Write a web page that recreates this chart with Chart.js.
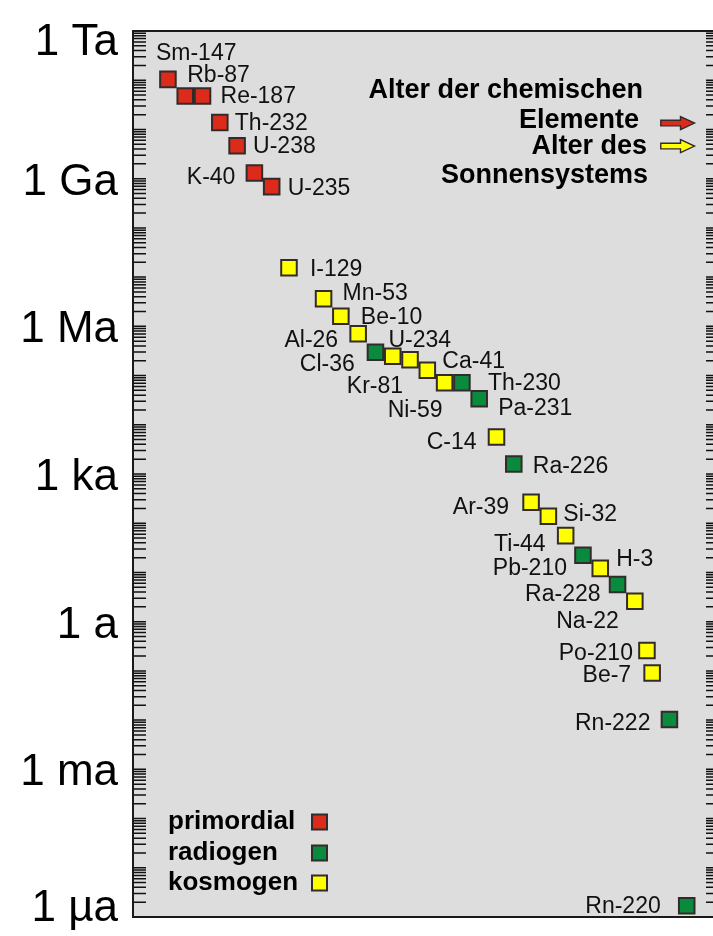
<!DOCTYPE html>
<html lang="de">
<head>
<meta charset="UTF-8">
<title>Halbwertszeiten</title>
<script src="https://cdn.jsdelivr.net/npm/chart.js@4.4.0/dist/chart.umd.min.js"></script>
<style>
  html, body { margin: 0; padding: 0; background: #fff; overflow: hidden; }
  canvas { display: block; }
</style>
</head>
<body>
<canvas id="chart" width="713" height="936" style="width:713px;height:936px"></canvas>
<script>
// nuclides, ordered left to right (slot = position along the diagonal)
const nuclides = ['Sm-147', 'Rb-87', 'Re-187', 'Th-232', 'U-238', 'K-40', 'U-235',
  'I-129', 'Mn-53', 'Be-10', 'Al-26', 'U-234', 'Cl-36', 'Kr-81', 'Ca-41', 'Ni-59',
  'Th-230', 'Pa-231', 'C-14', 'Ra-226', 'Ar-39', 'Si-32', 'Ti-44', 'Pb-210', 'H-3',
  'Ra-228', 'Na-22', 'Po-210', 'Be-7', 'Rn-222', 'Rn-220'];
const slots = [0, 1, 2, 3, 4, 5, 6, 7, 9, 10, 11, 12, 13, 14, 15, 16, 17, 18, 19, 20,
  21, 22, 23, 24, 25, 26, 27, 27.7, 28, 29, 30];
// half-life in years
const halfLives = [1.04e11, 4.8e10, 4.8e10, 1.38e10, 4.65e9, 1.3e9, 6.9e8,
  1.55e7, 3.64e6, 1.6e6, 7.05e5, 2.97e5, 2.46e5, 2.09e5, 1.28e5, 7.16e4,
  7.16e4, 3.39e4, 5640, 1600, 267, 138, 56, 22.3, 12.1,
  5.7, 2.59, 0.259, 0.0905, 0.0103, 1.69e-6];
// p = primordial, r = radiogen, k = kosmogen
const kinds = ['p', 'p', 'p', 'p', 'p', 'p', 'p',
  'k', 'k', 'k', 'k', 'r', 'k', 'k', 'k', 'k',
  'r', 'r', 'k', 'r', 'k', 'k', 'k', 'r', 'k',
  'r', 'k', 'k', 'k', 'r', 'r'];

const axisValues = [1e12, 1e9, 1e6, 1e3, 1, 1e-3, 1e-6];
const axisLabels = ['1 Ta', '1 Ga', '1 Ma', '1 ka', '1 a', '1 ma', '1 µa'];
const legendNames = ['primordial', 'radiogen', 'kosmogen'];
const legendKinds = ['p', 'r', 'k'];
// Alter der chemischen Elemente, Alter des Sonnensystems (years)
const arrowValues = [1.35e10, 4.6e9];
const arrowKinds = ['p', 'k'];

const colors = { p: '#dc2b1b', r: '#0a8a3c', k: '#ffff00' };
const edge = '#332b2b';

// label placement next to each marker: [dx, dy, side]
const labelPos = [
  [-12, -27, 'l'], [2, -21, 'l'], [18, 0, 'l'], [15, 0, 'l'], [16, 0, 'l'], [-19, 4, 'r'], [16, 1, 'l'],
  [21, 1, 'l'], [19, -6, 'l'], [20, 0, 'l'], [-20, 6, 'r'], [13, -13, 'l'], [-38, 7, 'r'], [-7, 26, 'r'],
  [15, -10, 'l'], [-2, 27, 'r'], [26, 0, 'l'], [19, 9, 'l'], [-20, 5, 'r'], [19, 2, 'l'],
  [-22, 4, 'r'], [15, -3, 'l'], [-20, 8, 'r'], [-16, 12, 'r'], [16, -10, 'l'], [-17, 9, 'r'],
  [-16, 19, 'r'], [-14, 2, 'r'], [-21, 2, 'r'], [-19, 3, 'r'], [-26, 0, 'r']
];

const FONT = '"Liberation Sans", Arial, sans-serif';

const points = slots.map((s, i) => ({ x: s, y: halfLives[i] }));

const frame = {
  id: 'frame',
  beforeDatasetsDraw(chart) {
    const { ctx, chartArea: a, scales: { y } } = chart;
    // the frame's right edge sits just past the visible canvas
    const right = a.right + 6;
    ctx.save();
    ctx.fillStyle = '#dddddd';
    ctx.fillRect(a.left, a.top, right - a.left, a.bottom - a.top);

    // log ticks, drawn inwards on both sides
    ctx.strokeStyle = '#111';
    ctx.lineWidth = 1.5;
    ctx.beginPath();
    for (let d = -6; d <= 12; d++) {
      for (let m = 1; m <= 9; m++) {
        if (d === 12 && m > 1) break;
        const py = y.getPixelForValue(m * Math.pow(10, d));
        ctx.moveTo(a.left, py); ctx.lineTo(a.left + 13, py);
        ctx.moveTo(right, py); ctx.lineTo(right - 13, py);
      }
    }
    ctx.stroke();

    ctx.lineWidth = 2;
    ctx.strokeStyle = '#1a1a1a';
    ctx.strokeRect(a.left, a.top, right - a.left, a.bottom - a.top);

    // axis labels
    ctx.fillStyle = '#000';
    ctx.font = '44px ' + FONT;
    ctx.textAlign = 'right';
    ctx.textBaseline = 'alphabetic';
    axisValues.forEach((v, i) => {
      let py = y.getPixelForValue(v) + 16;
      py = Math.max(55, Math.min(921, py));
      ctx.fillText(axisLabels[i], 118, py);
    });
    ctx.restore();
  },
  afterDatasetsDraw(chart) {
    const { ctx, scales: { x, y } } = chart;
    const meta = chart.getDatasetMeta(0);
    ctx.save();
    // nuclide labels
    ctx.fillStyle = '#111';
    ctx.font = '23px ' + FONT;
    ctx.textBaseline = 'middle';
    meta.data.forEach((pt, i) => {
      const [dx, dy, side] = labelPos[i];
      ctx.textAlign = side === 'l' ? 'left' : 'right';
      ctx.fillText(nuclides[i], pt.x + dx, pt.y + dy + 1);
    });

    // title text
    ctx.font = 'bold 27px ' + FONT;
    ctx.textAlign = 'right';
    ctx.fillStyle = '#000';
    ctx.fillText('Alter der chemischen', 643, 91);
    ctx.fillText('Elemente', 639, 121);
    ctx.fillText('Alter des', 647, 147);
    ctx.fillText('Sonnensystems', 648, 176);

    // arrows at the two ages
    const x0 = x.getPixelForValue(28.5), x1 = x.getPixelForValue(30.45);
    arrowValues.forEach((v, i) => {
      const py = y.getPixelForValue(v);
      const xh = x1 - 14;
      ctx.beginPath();
      ctx.moveTo(x0, py - 2.8);
      ctx.lineTo(xh, py - 2.8);
      ctx.lineTo(xh, py - 6.5);
      ctx.lineTo(x1, py);
      ctx.lineTo(xh, py + 6.5);
      ctx.lineTo(xh, py + 2.8);
      ctx.lineTo(x0, py + 2.8);
      ctx.closePath();
      ctx.fillStyle = colors[arrowKinds[i]];
      ctx.fill();
      ctx.lineWidth = 1.4;
      ctx.strokeStyle = edge;
      ctx.stroke();
    });

    // legend
    ctx.font = 'bold 26px ' + FONT;
    ctx.textAlign = 'left';
    ctx.textBaseline = 'middle';
    const ly = [822, 853, 883];
    legendNames.forEach((n, i) => {
      ctx.fillStyle = '#000';
      ctx.fillText(n, 168, ly[i]);
      ctx.fillStyle = colors[legendKinds[i]];
      ctx.fillRect(312, ly[i] - 7.5, 15, 15);
      ctx.lineWidth = 2;
      ctx.strokeStyle = edge;
      ctx.strokeRect(312, ly[i] - 7.5, 15, 15);
    });
    ctx.restore();
  }
};

new Chart(document.getElementById('chart'), {
  type: 'scatter',
  data: {
    datasets: [{
      data: points,
      pointStyle: 'rect',
      pointRadius: 11,
      pointHoverRadius: 11,
      pointBackgroundColor: kinds.map(k => colors[k]),
      pointBorderColor: edge,
      pointBorderWidth: 2
    }]
  },
  options: {
    responsive: false,
    animation: false,
    events: [],
    layout: { autoPadding: false, padding: { left: 133, top: 31, right: 0, bottom: 19 } },
    plugins: { legend: { display: false }, tooltip: { enabled: false } },
    scales: {
      x: { type: 'linear', min: -2.02, max: 31.52, display: false },
      y: { type: 'logarithmic', min: 1e-6, max: 1e12, display: false }
    }
  },
  plugins: [frame]
});
</script>
</body>
</html>
